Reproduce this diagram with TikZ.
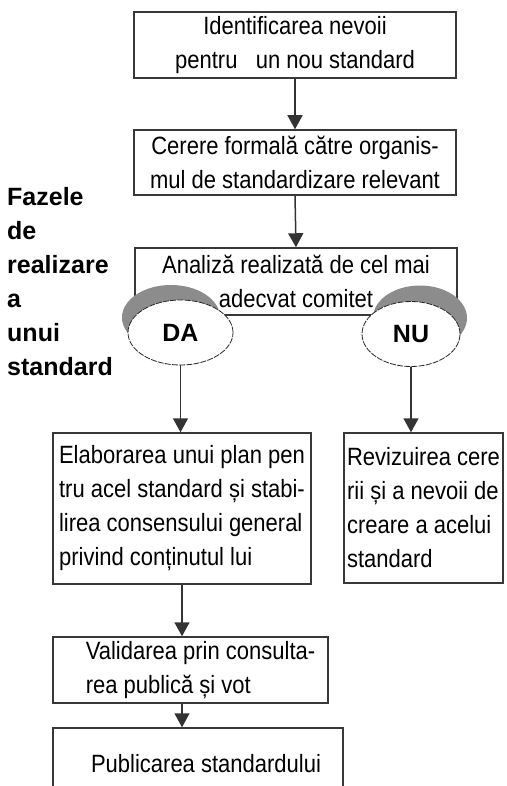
\documentclass[tikz,border=0pt]{standalone}
\usepackage{fontspec}
\setmainfont{Liberation Sans}
\newfontfamily\boxfont[FakeStretch=0.88]{Liberation Sans}
\usetikzlibrary{arrows.meta,shapes.geometric}
\begin{document}
\begin{tikzpicture}[x=1pt,y=-1pt,
  box/.style={draw=black!78, line width=1.5pt, fill=white, rectangle, inner sep=0pt, font=\boxfont\fontsize{25}{34}\selectfont},
  arr/.style={draw=black!80, line width=1.5pt, -{Triangle[length=14pt,width=15pt]}},
  oval/.style={ellipse, draw=black!85, line width=0.8pt, dash pattern=on 6pt off 1.2pt, fill=white, inner sep=0pt, minimum height=65pt, font=\fontsize{25}{30}\selectfont\bfseries},
  shadowoval/.style={ellipse, fill=black!45, draw=none, inner sep=0pt, minimum height=65pt},
  title/.style={align=left, inner sep=0pt, font=\fontsize{25}{34}\selectfont\bfseries}]
\clip (0,0) rectangle (506,786);
\fill[white] (0,0) rectangle (506,786);

\node[box, minimum width=322pt, minimum height=66pt, align=center] (n1) at (295,45)
  {Identificarea nevoii\\pentru\ \ \ un nou standard};
\node[box, minimum width=322pt, minimum height=65pt, align=center] (n2) at (295,162.5)
  {Cerere formală către organis-\\mul de standardizare relevant};
\node[box, minimum width=322pt, minimum height=67pt, align=center] (n3) at (296,281.5)
  {Analiză realizată de cel mai\\adecvat comitet};

\node[shadowoval, minimum width=98pt] (sda) at (171,317.5) {};
\node[shadowoval, minimum width=94pt] (snu) at (420,318) {};
\node[oval, minimum width=105pt] (da) at (180.5,332.5) {DA};
\node[oval, minimum width=98pt] (nu) at (411,334) {NU};

\node[title, anchor=west] (t) at (7,282)
  {Fazele\\de\\realizare\\a\\unui\\standard};

\node[box, minimum width=258pt, minimum height=151pt, align=left] (n4) at (182,508.5)
  {Elaborarea unui plan pen\\tru acel standard și stabi-\\lirea consensului general\\privind conținutul lui};
\node[box, minimum width=159pt, minimum height=150pt, align=left] (n5) at (423.5,508)
  {Revizuirea cere\\rii și a nevoii de\\creare a acelui\\standard};
\node[box, minimum width=275pt, minimum height=66pt, align=left] (n6) at (190.5,670)
  {\hspace*{20pt}Validarea prin consulta-\\\hspace*{20pt}rea publică și vot};
\node[box, minimum width=290pt, minimum height=72pt, align=left] (n7) at (198,764)
  {\hspace*{16pt}Publicarea standardului};

\draw[arr] (n1.south) -- (n2.north);
\draw[arr] (n2.south) -- (n3.north);
\draw[arr] (da.south) -- (da.south |- n4.north);
\draw[arr] (nu.south) -- (nu.south |- n5.north);
\draw[arr] (n4.south) -- (n4.south |- n6.north);
\draw[arr] (n4.south |- n6.south) -- (n4.south |- n7.north);
\end{tikzpicture}
\end{document}
